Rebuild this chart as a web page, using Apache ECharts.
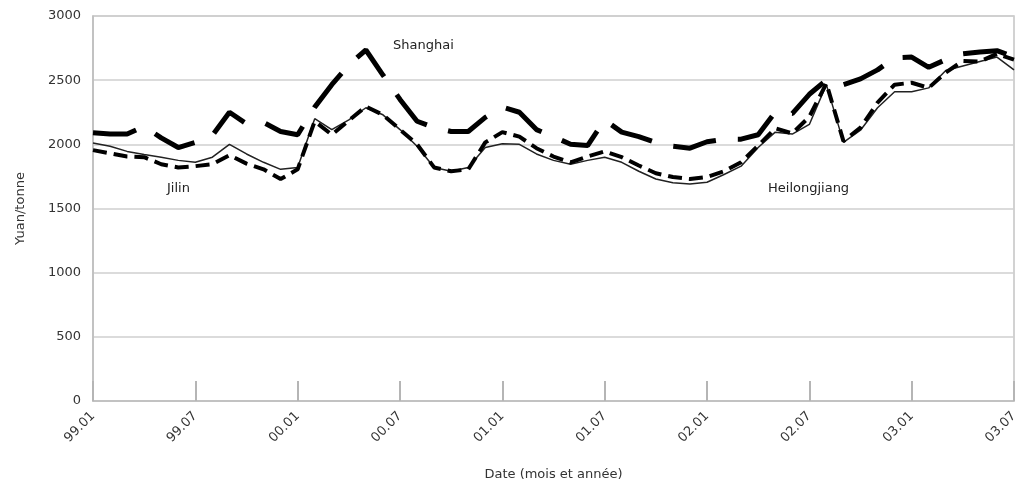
<!DOCTYPE html>
<html>
<head>
<meta charset="utf-8">
<script src="https://cdn.jsdelivr.net/npm/echarts@6/dist/echarts.min.js"></script>
<style>html,body{margin:0;padding:0;background:#fff}#c{width:1022px;height:486px}</style>
</head>
<body>
<div id="c"></div>
<script>
const months = (function(){const a=[];for(let y=99;y<=103;y++){for(let m=1;m<=12;m++){if(y===103&&m>7)break;a.push(String(y%100).padStart(2,'0')+'.'+String(m).padStart(2,'0'));}}return a;})();
const xTickLabels = ['99.01','99.07','00.01','00.07','01.01','01.07','02.01','02.07','03.01','03.07'];
const shanghai = [2090,2080,2080,2140,2050,1975,2015,2070,2250,2160,2170,2100,2075,2290,2465,2620,2735,2540,2350,2180,2130,2100,2100,2210,2290,2250,2115,2060,2000,1990,2190,2095,2060,2015,1985,1970,2020,2040,2040,2075,2250,2240,2390,2500,2465,2510,2580,2675,2680,2600,2660,2705,2720,2730,2680];
const heilongjiang = [1955,1930,1905,1900,1845,1820,1830,1845,1915,1850,1805,1730,1805,2180,2075,2185,2295,2230,2115,2000,1820,1790,1805,2015,2095,2060,1970,1905,1860,1905,1945,1900,1835,1775,1745,1730,1745,1790,1860,1990,2125,2085,2215,2475,2025,2130,2325,2465,2480,2440,2560,2650,2645,2705,2660];
const jilin = [2010,1985,1945,1920,1900,1875,1860,1900,2000,1925,1860,1805,1820,2200,2115,2190,2285,2230,2115,1985,1820,1790,1820,1975,2005,2000,1925,1875,1845,1875,1900,1860,1790,1730,1700,1690,1705,1765,1830,1975,2095,2080,2155,2465,2015,2110,2285,2410,2410,2440,2575,2610,2645,2680,2580];

const chart = echarts.init(document.getElementById('c'));
const font = 'DejaVu Sans';
chart.setOption({
  animation:false,
  grid:{left:93,right:8,top:16,bottom:82,show:true,borderColor:'#c4c4c4',borderWidth:1.5},
  xAxis:{type:'category',data:months,boundaryGap:false,
    name:'Date (mois et année)',nameLocation:'middle',nameGap:67,
    nameTextStyle:{fontFamily:font,fontSize:13,color:'#333'},
    axisLine:{lineStyle:{color:'#bdbdbd',width:1.5}},
    axisTick:{inside:true,length:20,interval:5,lineStyle:{color:'#b5b5b5',width:2}},
    axisLabel:{show:false},
    splitLine:{show:false}},
  yAxis:{type:'value',min:0,max:3000,interval:500,
    name:'Yuan/tonne',nameLocation:'middle',nameGap:66,
    nameTextStyle:{fontFamily:font,fontSize:13,color:'#333'},
    axisLine:{show:true,lineStyle:{color:'#bdbdbd',width:1.5}},
    axisTick:{show:false},
    axisLabel:{fontFamily:font,fontSize:13,color:'#333',margin:12,formatter:v=>String(v)},
    splitLine:{lineStyle:{color:'#cfcfcf',width:1.5}}},
  series:[
    {name:'Jilin',type:'line',data:jilin,symbol:'none',z:2,lineStyle:{color:'#222',width:1.5,type:'solid'}},
    {name:'Heilongjiang',type:'line',data:heilongjiang,symbol:'none',z:3,lineStyle:{color:'#000',width:4,type:[14,7]}},
    {name:'Shanghai',type:'line',data:shanghai,symbol:'none',z:4,lineStyle:{color:'#000',width:5,type:[44,22]}}
  ]
});
const y0 = chart.convertToPixel({yAxisIndex:0}, 0);
const labelEls = xTickLabels.map((t,i) => {
  const px = chart.convertToPixel({xAxisIndex:0}, t);
  return {type:'text', id:'xl'+i, x:px, y:y0+13, rotation:Math.PI/4,
    style:{text:t, font:'13px '+font, fill:'#333', align:'right', verticalAlign:'middle'}};
});
chart.setOption({graphic:[
  {type:'text',id:'lsh',left:393,top:39,style:{text:'Shanghai',font:'13px '+font,fill:'#222'}},
  {type:'text',id:'ljl',left:167,top:182,style:{text:'Jilin',font:'13px '+font,fill:'#222'}},
  {type:'text',id:'lhl',left:768,top:182,style:{text:'Heilongjiang',font:'13px '+font,fill:'#222'}}
].concat(labelEls)});
</script>
</body>
</html>
